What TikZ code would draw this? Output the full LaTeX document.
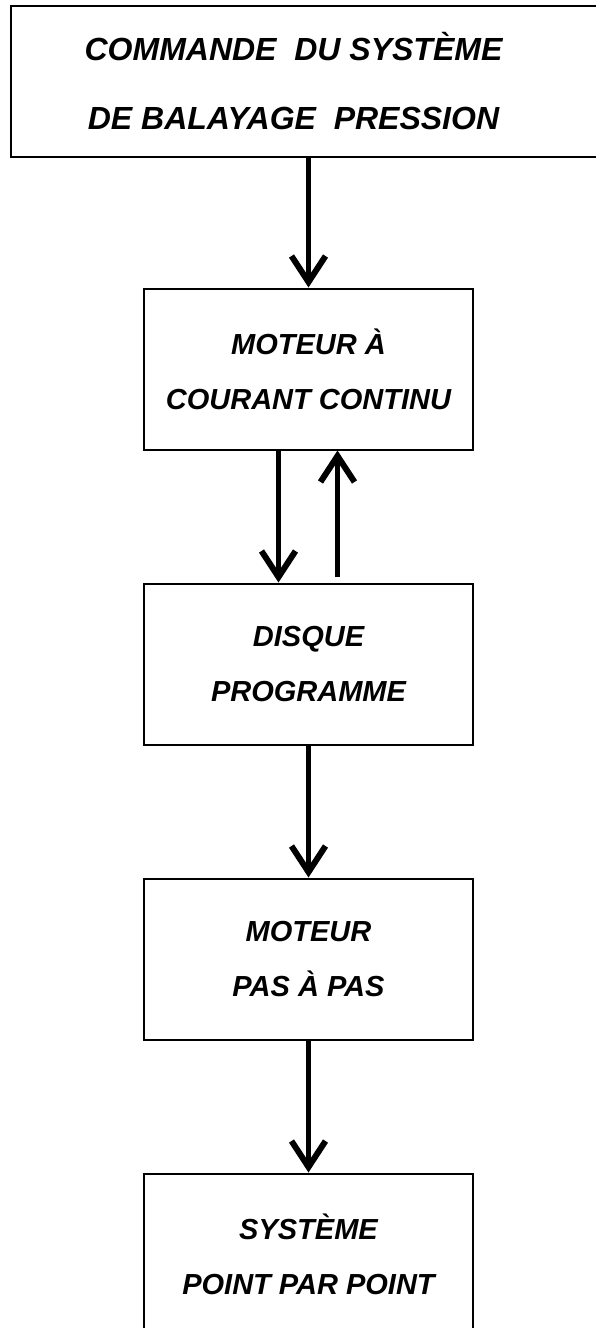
\documentclass[tikz,border=0pt]{standalone}
\usepackage{fontspec}
\setmainfont{Liberation Sans}
\usepackage[]{tikz}
\usetikzlibrary{positioning,arrows.meta}
\tikzset{bloc/.style={draw,line width=2pt,minimum width=329pt,minimum height=161pt,inner sep=0pt,align=center,font=\fontsize{29}{55}\selectfont\bfseries\itshape}}
\tikzset{fleche/.style={line width=4.5pt,-{Straight Barb[length=26pt,width=34pt,line width=6pt]}}}

\begin{document}
\begin{tikzpicture}[x=1pt,y=-1pt] %单位取1pt, y轴向下
            \useasboundingbox (0,0) rectangle (596,1328);
            \node[bloc,minimum width=589pt,minimum height=151pt,font=\fontsize{32}{69}\selectfont\bfseries\itshape] (cmd) at (305.5,81.5) {COMMANDE\ \ DU SYSTÈME\hspace*{24pt}\\DE BALAYAGE\ \ PRESSION\hspace*{24pt}};
            \node[bloc] (moteur) at (308.5,369) {MOTEUR À\\COURANT CONTINU};
            \node[bloc,below=132pt of moteur] (disque) {DISQUE\\PROGRAMME};
            \node[bloc,below=132pt of disque] (pas) {MOTEUR\\PAS À PAS};
            \node[bloc,below=132pt of pas] (point) {SYSTÈME\\POINT PAR POINT};
            \draw[fleche] (cmd.south -| moteur.north)--(moteur.north);
            \draw[fleche] ([xshift=-30pt]moteur.south)--([xshift=-30pt]disque.north);
            \draw[fleche,shorten <=6pt] ([xshift=29pt]disque.north)--([xshift=29pt]moteur.south); % 反馈
            \draw[fleche] (disque)--(pas);
            \draw[fleche] (pas)--(point);
        \end{tikzpicture}
\end{document}
